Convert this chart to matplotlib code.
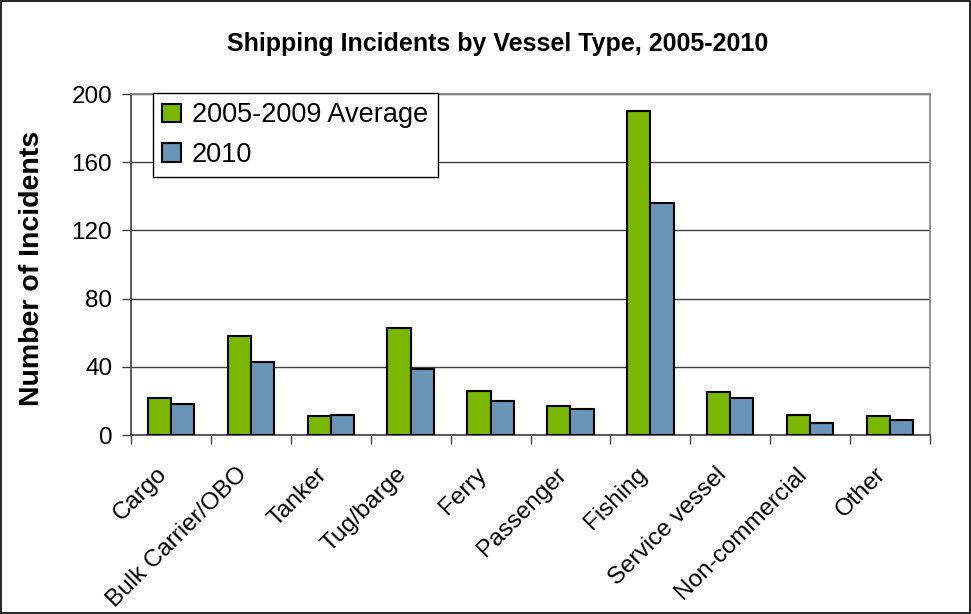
import matplotlib
matplotlib.use("Agg")
import matplotlib.pyplot as plt
import matplotlib.transforms as mtransforms
import numpy as np
from matplotlib.patches import Rectangle

categories = ["Cargo", "Bulk Carrier/OBO", "Tanker", "Tug/barge", "Ferry",
              "Passenger", "Fishing", "Service vessel", "Non-commercial", "Other"]
avg_2005_2009 = [22, 58, 11, 63, 26, 17, 190, 25, 12, 11]
year_2010 = [18, 43, 12, 39, 20, 15, 136, 22, 7, 9]
yticks = [0, 40, 80, 120, 160, 200]

plt.rcParams["font.family"] = ["Liberation Sans", "DejaVu Sans"]

fig = plt.figure(figsize=(9.71, 6.14), dpi=100)
ax = fig.add_axes([0.1349, 0.2915, 0.8229, 0.5554])

x = np.arange(len(categories))
w = 0.29
green = "#7AB800"
blue = "#6794B8"
ax.bar(x - w / 2, avg_2005_2009, width=w, color=green, edgecolor="black",
       linewidth=1.5, label="2005-2009 Average", zorder=3)
ax.bar(x + w / 2, year_2010, width=w, color=blue, edgecolor="black",
       linewidth=1.5, label="2010", zorder=3)

ax.set_xlim(-0.5, len(categories) - 0.5)
ax.set_ylim(0, 200)
ax.set_yticks(yticks)
ax.tick_params(axis="y", labelsize=17.5, length=6.5, width=1, color="#404040",
               direction="out", pad=7)

# category labels at centres, tick marks at boundaries
ax.set_xticks(x)
ax.set_xticklabels(categories, rotation=45, ha="right", va="top",
                   rotation_mode="anchor", fontsize=17.5)
ax.tick_params(axis="x", which="major", length=0, pad=8)
ax.set_xticks(np.arange(-0.5, len(categories), 1.0), minor=True)
ax.tick_params(axis="x", which="minor", length=6.5, width=1, color="#404040",
               direction="out")
shift = mtransforms.ScaledTranslation(-0.15, -0.17, fig.dpi_scale_trans)
for lbl in ax.get_xticklabels():
    lbl.set_transform(lbl.get_transform() + shift)

ax.yaxis.grid(True, color="#404040", linewidth=1, zorder=0)
ax.set_axisbelow(True)
for side in ["top", "right"]:
    ax.spines[side].set_color("#808080")
    ax.spines[side].set_linewidth(1.2)
for side in ["left", "bottom"]:
    ax.spines[side].set_color("#404040")
    ax.spines[side].set_linewidth(1.2)

fig.text(0.033, 0.562, "Number of Incidents", rotation=90, ha="center",
         va="center", fontsize=20.5, fontweight="bold")
fig.text(0.512, 0.929, "Shipping Incidents by Vessel Type, 2005-2010",
         ha="center", va="center", fontsize=18, fontweight="bold")

leg = ax.legend(loc="upper left", bbox_to_anchor=(0.027, 1.003), fontsize=19.5,
                frameon=True, fancybox=False, framealpha=1, edgecolor="black",
                handlelength=0.7, handleheight=0.7, handletextpad=0.4,
                borderpad=0.35, labelspacing=0.5, borderaxespad=0)
leg.get_frame().set_linewidth(1.0)

fig.patches.append(Rectangle((0.001, 0.001), 0.998, 0.998, transform=fig.transFigure,
                             fill=False, edgecolor="black", linewidth=1.2))

fig.savefig("out.png", dpi=100, facecolor="white")
